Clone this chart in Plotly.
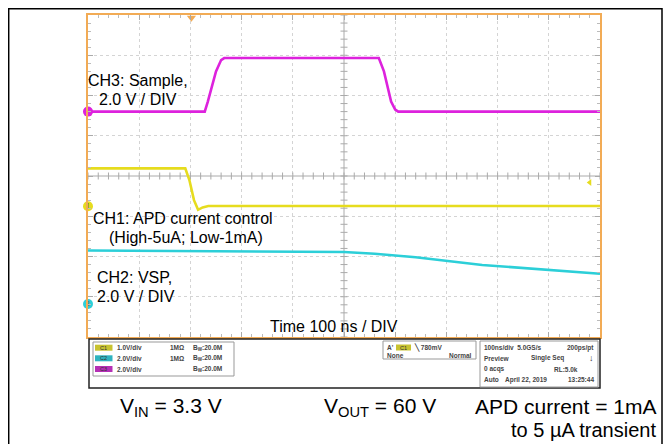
import plotly.graph_objects as go

# ---- data (time in divisions, amplitude in divisions) ----
ch3_t = [0, 2.28, 2.34, 2.5, 2.6, 2.66, 5.68, 5.78, 5.92, 6.0, 6.06, 10]
ch3_v = [1.6, 1.6, 1.85, 2.6, 2.88, 2.93, 2.93, 2.6, 1.85, 1.65, 1.6, 1.6]

ch1_t = [0, 1.9, 1.98, 2.07, 2.15, 2.24, 2.35, 10]
ch1_v = [0.19, 0.19, -0.1, -0.6, -0.84, -0.78, -0.745, -0.745]

ch2_t = [0, 3.0, 5.0, 5.6, 6.4, 7.7, 9.0, 10]
ch2_v = [-1.85, -1.87, -1.89, -1.93, -2.02, -2.21, -2.34, -2.43]

markers_level = {"ch3": 1.6, "ch1": -0.75, "ch2": -3.18}
trig_pos = 2.02
trig_level = -0.16

# page has an 8px body margin: build the figure in window pixels minus that offset
OFF = 8
W, H = 671 - OFF, 444 - OFF
MAG = "#dd22dd"
YEL = "#e6dc1e"
CYN = "#2ccfd8"
ORG = "#f2ab55"


def px(x):
    return (x - OFF) / W


def py(y):
    return 1 - (y - OFF) / H


fig = go.Figure()

# center cross lines with ticks
fig.add_trace(go.Scatter(x=[i * 0.2 for i in range(51)], y=[0] * 51, mode="markers",
                         marker=dict(symbol="line-ns", size=5, line=dict(width=1, color="#aaaaaa")),
                         hoverinfo="skip", showlegend=False))
fig.add_trace(go.Scatter(x=[5] * 41, y=[-4 + i * 0.2 for i in range(41)], mode="markers",
                         marker=dict(symbol="line-ew", size=5, line=dict(width=1, color="#aaaaaa")),
                         hoverinfo="skip", showlegend=False))

# waveforms
fig.add_trace(go.Scatter(x=ch2_t, y=ch2_v, mode="lines", line=dict(color=CYN, width=2.6),
                         showlegend=False))
fig.add_trace(go.Scatter(x=ch1_t, y=ch1_v, mode="lines", line=dict(color=YEL, width=2.6),
                         showlegend=False))
fig.add_trace(go.Scatter(x=ch3_t, y=ch3_v, mode="lines", line=dict(color=MAG, width=2.6),
                         showlegend=False))

# channel ground markers
fig.add_trace(go.Scatter(x=[0, 0, 0],
                         y=[markers_level["ch3"], markers_level["ch1"], markers_level["ch2"]],
                         mode="markers+text", text=["", "1", "2"],
                         textfont=dict(size=7, color="#555555"), textposition="middle center",
                         marker=dict(size=10, color=[MAG, YEL, CYN], line=dict(width=0)),
                         cliponaxis=False, showlegend=False, hoverinfo="skip"))
# trigger markers
fig.add_trace(go.Scatter(x=[trig_pos], y=[3.93], mode="markers",
                         marker=dict(symbol="triangle-down", size=8, color=ORG),
                         cliponaxis=False, showlegend=False, hoverinfo="skip"))
fig.add_trace(go.Scatter(x=[9.8], y=[trig_level], mode="markers",
                         marker=dict(symbol="triangle-left", size=6, color=YEL),
                         cliponaxis=False, showlegend=False, hoverinfo="skip"))

fig.add_shape(type="line", x0=5, x1=5, y0=-4, y1=4, line=dict(color="#aaaaaa", width=1), layer="below")
fig.add_shape(type="line", x0=0, x1=10, y0=0, y1=0, line=dict(color="#aaaaaa", width=1), layer="below")

shapes = []
# outer frame
shapes.append(dict(type="rect", xref="paper", yref="paper", x0=px(8.7), x1=px(662), y0=py(470), y1=py(8.7),
                   line=dict(color="black", width=1.5)))
# info panel
shapes.append(dict(type="rect", xref="paper", yref="paper", x0=px(89), x1=px(600), y0=py(388), y1=py(339),
                   line=dict(color="#222222", width=1.5)))
shapes.append(dict(type="rect", xref="paper", yref="paper", x0=px(93), x1=px(234), y0=py(376), y1=py(342),
                   line=dict(color="#999999", width=1)))
shapes.append(dict(type="rect", xref="paper", yref="paper", x0=px(383), x1=px(476), y0=py(359), y1=py(341),
                   line=dict(color="#999999", width=1)))
shapes.append(dict(type="rect", xref="paper", yref="paper", x0=px(480), x1=px(598), y0=py(387), y1=py(341),
                   line=dict(color="#999999", width=1)))
# channel pills
pill_cols = [("#c8c230", "C1"), ("#2fb3bf", "C2"), ("#b52fb5", "C3")]
rows = [347.7, 358.3, 369]
for (c, _), yy in zip(pill_cols, rows):
    shapes.append(dict(type="rect", xref="paper", yref="paper", x0=px(95), x1=px(112.5),
                       y0=py(yy + 3), y1=py(yy - 3), fillcolor=c, line=dict(width=0)))
shapes.append(dict(type="rect", xref="paper", yref="paper", x0=px(396), x1=px(411),
                   y0=py(350.5), y1=py(344.5), fillcolor="#c8c230", line=dict(width=0)))
for s in shapes:
    fig.add_shape(**s)

ann = []


def txt(x, y, s, size=16, anchor="left", color="black", family="Arial, Liberation Sans, sans-serif"):
    ann.append(dict(x=px(x), y=py(y), xref="paper", yref="paper", text=s, showarrow=False,
                    xanchor=anchor, yanchor="middle", font=dict(size=size, color=color, family=family)))


txt(86, 80, "CH3: Sample,")
txt(97, 99, "2.0 V / DIV")
txt(91, 218, "CH1: APD current control")
txt(107, 237, "(High-5uA; Low-1mA)")
txt(95, 277, "CH2: VSP,")
txt(95, 296, "2.0 V / DIV")
txt(268, 326, "Time 100 ns / DIV")

txt(118, 407, "V<sub>IN</sub> = 3.3 V", size=21)
txt(322, 407, "V<sub>OUT</sub> = 60 V", size=21)
txt(658, 406, "APD current = 1mA", size=21, anchor="right")
txt(658, 430, "to 5 µA transient", size=20, anchor="right")

small = dict(size=6.5, color="#444444")
for lbl, yy in zip(["C1", "C2", "C3"], rows):
    txt(103.7, yy, lbl, size=5.5, anchor="center", color="#333333")
txt(115, 347.7, "<b>1.0V/div</b>", **small)
txt(115, 358.3, "<b>2.0V/div</b>", **small)
txt(115, 369, "<b>2.0V/div</b>", **small)
txt(168, 347.7, "<b>1MΩ</b>", **small)
txt(168, 358.3, "<b>1MΩ</b>", **small)
txt(224, 347.7, "<b>B<sub>W</sub>:20.0M</b>", anchor="right", **small)
txt(224, 358.3, "<b>B<sub>W</sub>:20.0M</b>", anchor="right", **small)
txt(224, 369, "<b>B<sub>W</sub>:20.0M</b>", anchor="right", **small)

txt(385, 347.7, "<b>A'</b>", **small)
txt(403.5, 347.7, "C1", size=5.5, anchor="center", color="#333333")
txt(412, 347.7, "<b>╲ 780mV</b>", **small)
txt(385, 355.5, "<b>None</b>", **small)
txt(474, 355.5, "<b>Normal</b>", anchor="right", **small)

txt(482, 347.7, "<b>100ns/div  5.0GS/s</b>", **small)
txt(596, 347.7, "<b>200ps/pt</b>", anchor="right", **small)
txt(482, 358.3, "<b>Preview</b>", **small)
txt(529, 358.3, "<b>Single Seq</b>", **small)
txt(591, 358.3, "<b>↓</b>", size=9, anchor="center", color="#333333")
txt(482, 369, "<b>0 acqs</b>", **small)
txt(580, 369, "<b>RL:5.0k</b>", anchor="right", **small)
txt(482, 379.7, "<b>Auto</b>", **small)
txt(503, 379.7, "<b>April 22, 2019</b>", **small)
txt(596, 379.7, "<b>13:25:44</b>", anchor="right", **small)

axis_common = dict(showticklabels=False, zeroline=False, showline=True, linecolor=ORG, linewidth=2,
                   mirror="allticks", ticks="inside", ticklen=5, tickcolor="#aaaaaa", tickwidth=1,
                   showgrid=True, gridcolor="#d4d4d4", griddash="dot", gridwidth=1,
                   minor=dict(ticks="inside", ticklen=3, tickcolor="#bbbbbb", dtick=0.2, showgrid=False),
                   fixedrange=True)

fig.update_layout(
    width=W, height=H, margin=dict(l=0, r=0, t=0, b=0),
    paper_bgcolor="white", plot_bgcolor="white", showlegend=False,
    xaxis=dict(range=[0, 10], dtick=1, tick0=0, domain=[px(88), px(600)], **axis_common),
    yaxis=dict(range=[-4, 4], dtick=1, tick0=0, domain=[py(337), py(15)], **axis_common),
    annotations=ann,
)

fig.write_html("out.html")
